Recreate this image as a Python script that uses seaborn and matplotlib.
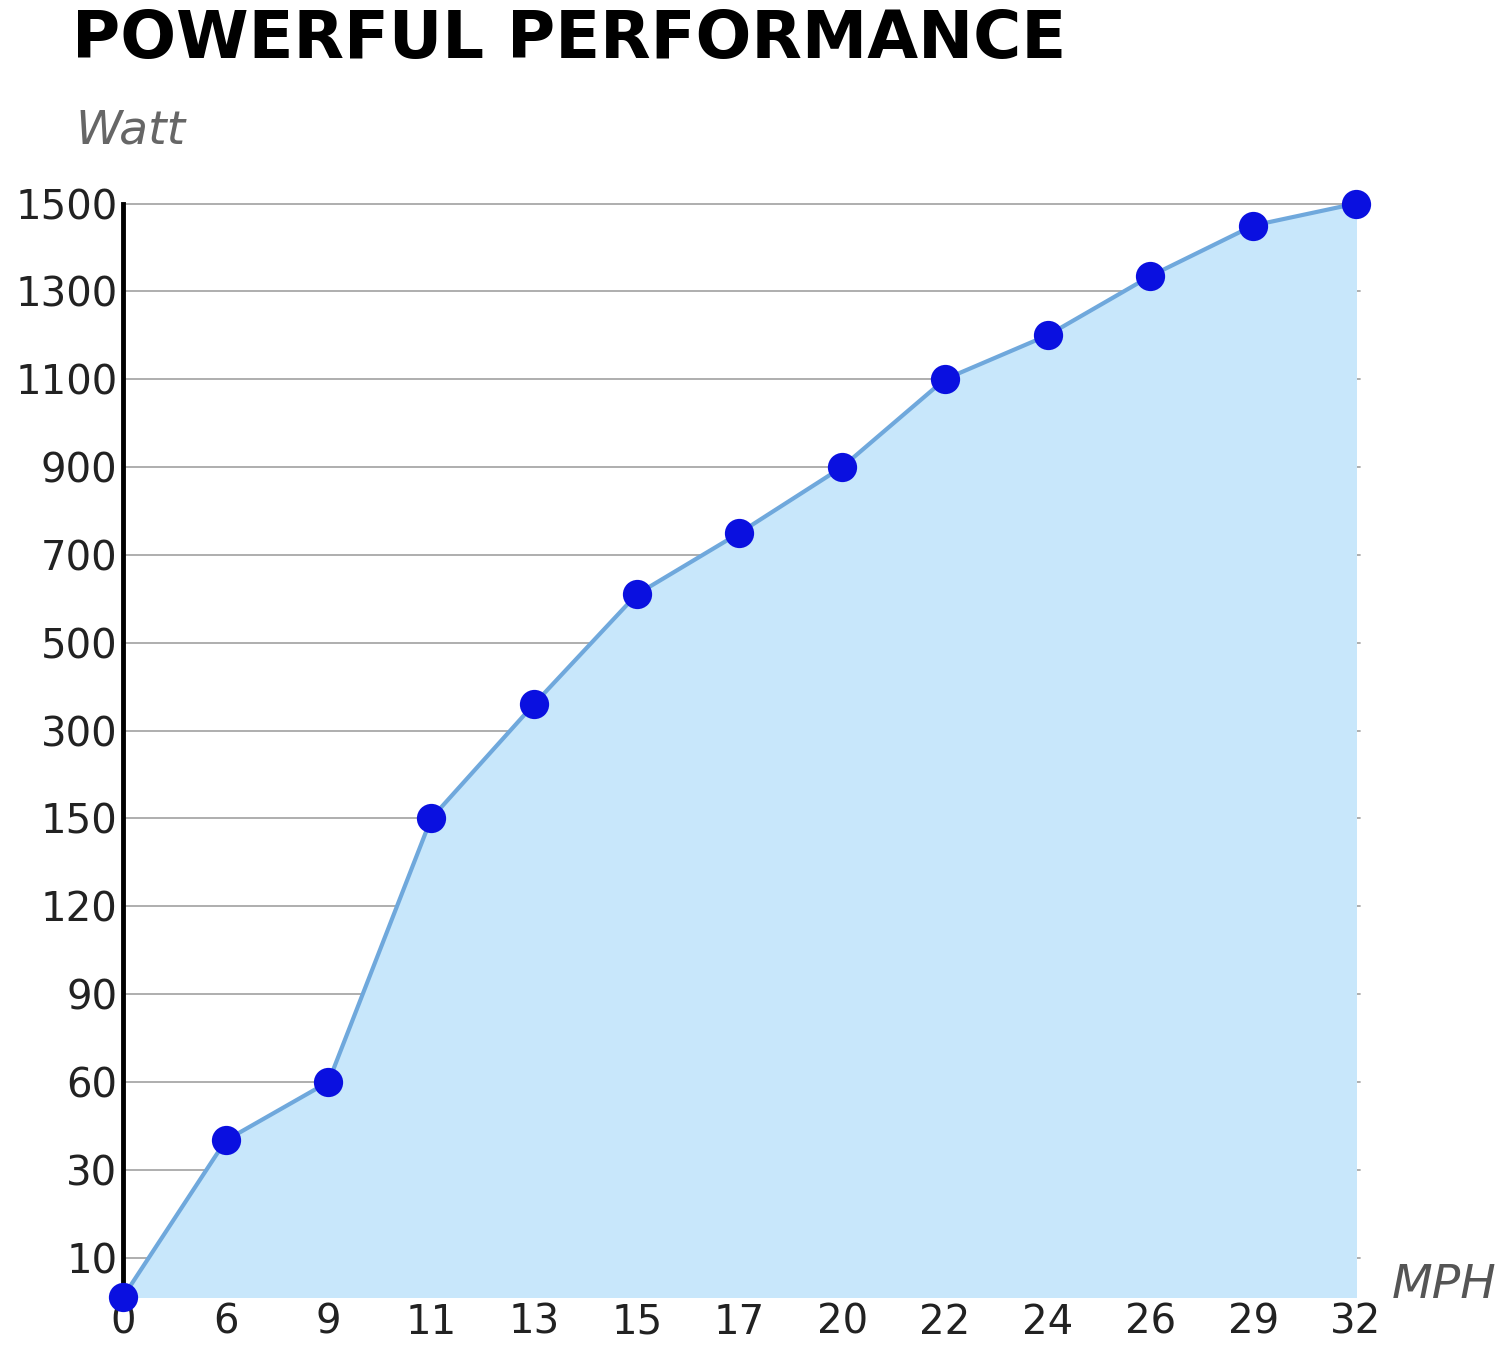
import matplotlib
matplotlib.use("Agg")
import matplotlib.pyplot as plt
import seaborn as sns
import pandas as pd
import numpy as np

sns.set_theme(style="white")
plt.rcParams['font.family'] = ['DejaVu Sans']

# --- DATA ---
mph_labels = ['0', '6', '9', '11', '13', '15', '17', '20', '22', '24', '26', '29', '32']
watt = [0, 40, 60, 150, 360, 610, 750, 900, 1100, 1200, 1335, 1450, 1500]
watt_ticks = [10, 30, 60, 90, 120, 150, 300, 500, 700, 900, 1100, 1300, 1500]

# the y axis is drawn with evenly spaced (non-linear) tick values
tick_pos = np.arange(1, len(watt_ticks) + 1)
zero_pos = 0.55
y_pos = np.interp(watt, [0] + watt_ticks, [zero_pos] + list(tick_pos))
df = pd.DataFrame({'x': np.arange(len(mph_labels)), 'y': y_pos})

fig = plt.figure(figsize=(15, 13.48), dpi=100)
ax = fig.add_axes([0.082, 0.0378, 0.822, 0.8112])

for p in tick_pos:
    ax.plot([0, 12.04], [p, p], color='#a8a8a8', lw=1.3, zorder=1, clip_on=False)

ax.fill_between(df['x'], zero_pos, df['y'], color='#c8e7fb', zorder=2)
sns.lineplot(data=df, x='x', y='y', ax=ax, color='#6fa8dc', lw=3, zorder=3)
sns.scatterplot(data=df, x='x', y='y', ax=ax, color='#0a10e0', s=380,
                edgecolor='#0a10e0', zorder=4, clip_on=False)

ax.set_xlim(0, 12)
ax.set_ylim(zero_pos, 13)
ax.set_xticks(df['x'])
ax.set_xticklabels(mph_labels, fontsize=29, color='#222222')
ax.set_yticks(tick_pos)
ax.set_yticklabels([str(t) for t in watt_ticks], fontsize=29, color='#222222')
ax.tick_params(axis='both', length=0, pad=4)
ax.set_xlabel('')
ax.set_ylabel('')
for s in ['top', 'right', 'bottom']:
    ax.spines[s].set_visible(False)
ax.spines['left'].set_color('black')
ax.spines['left'].set_linewidth(3.5)

title = fig.text(0.048, 0.97, 'POWERFUL PERFORMANCE', fontsize=70, fontweight='bold',
                 family=['Liberation Sans Narrow', 'DejaVu Sans'],
                 va='center', ha='left', color='black')
fig.text(0.05, 0.903, 'Watt', fontsize=34, style='italic', color='#666666',
         va='center', ha='left')
fig.text(0.928, 0.046, 'MPH', fontsize=34, style='italic', color='#555555',
         va='center', ha='left')

# scale title to the reference width (~995 px)
fig.canvas.draw()
w = title.get_window_extent().width
title.set_fontsize(70 * 995 / w)

fig.savefig('out.png', dpi=100)
